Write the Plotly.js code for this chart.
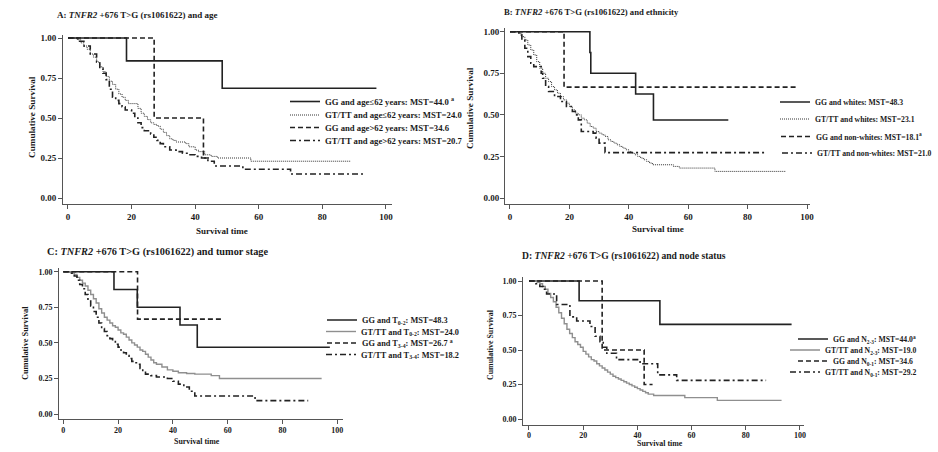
<!DOCTYPE html>
<html><head><meta charset="utf-8">
<script src="https://cdn.plot.ly/plotly-3.0.1.min.js"></script>
<style>html,body{margin:0;padding:0;background:#fff}#chart{width:938px;height:452px}</style>
</head><body><div id="chart"></div>
<script>
// ---------- Panel A: genotype and age ----------
const A_GG_young_t = [0, 18.4, 48.5, 97];
const A_GG_young_s = [1, 0.857, 0.686, 0.686];
const A_GT_young_t = [0,3,4,5,6,7,8,9,10,11,12,13,14,15,16,17,18,19,22,23,24,25,26,27,28,29,30,31,32,33,34,37,38,40,41,43,45,47,57.5,89];
const A_GT_young_s = [1,0.99,0.97,0.95,0.93,0.90,0.88,0.85,0.82,0.79,0.76,0.73,0.71,0.68,0.65,0.63,0.61,0.59,0.56,0.53,0.51,0.49,0.47,0.46,0.45,0.43,0.41,0.39,0.37,0.36,0.35,0.34,0.32,0.30,0.29,0.27,0.26,0.25,0.23,0.23];
const A_GG_old_t = [0, 27.1, 42.6, 45];
const A_GG_old_s = [1, 0.5, 0.25, 0.25];
const A_GT_old_t = [0,3,5,7,9,10,11,12,13,14,15,16,17,18,20,21,22,23,24,26,27,28,29,30,32,34,36,38,40,42,44,46,55,70,93];
const A_GT_old_s = [1,0.98,0.95,0.90,0.85,0.81,0.78,0.74,0.68,0.63,0.61,0.59,0.57,0.55,0.53,0.50,0.47,0.44,0.42,0.40,0.38,0.36,0.34,0.32,0.30,0.29,0.28,0.27,0.26,0.25,0.23,0.20,0.18,0.15,0.15];
const A_names = ["GG and age\u226462 years: MST=44.0 <sup>a</sup>", "GT/TT and age\u226462 years: MST=24.0", "GG and age&gt;62 years: MST=34.6", "GT/TT and age&gt;62 years: MST=20.7"];

// ---------- Panel B: genotype and ethnicity ----------
const B_GG_white_t = [0, 26.9, 27.2, 42.3, 48.3, 73.5];
const B_GG_white_s = [1, 0.875, 0.75, 0.625, 0.469, 0.469];
const B_GT_white_t = [0,3,4,5,6,7,8,9,10,11,12,13,14,15,16,17,18,19,20,21,22,23,24,25,26,27,28,29,30,31,32,33,34,35,36,37,38,39,40,41,42,43,44,45,46,47,48,55,57,69,93];
const B_GT_white_s = [1,0.99,0.97,0.95,0.92,0.89,0.86,0.82,0.78,0.75,0.72,0.70,0.67,0.65,0.63,0.61,0.59,0.57,0.55,0.53,0.51,0.50,0.48,0.47,0.45,0.43,0.42,0.40,0.39,0.38,0.37,0.35,0.34,0.33,0.32,0.31,0.30,0.29,0.28,0.27,0.26,0.25,0.24,0.23,0.22,0.21,0.20,0.19,0.18,0.16,0.16];
const B_GG_non_t = [0, 18.2, 97];
const B_GG_non_s = [1, 0.667, 0.667];
const B_GT_non_t = [0,3,4,5,6,7,8,10.5,11,12,13,15,17,19,21,22,23,24,28,29,30,32,86.4];
const B_GT_non_s = [1,0.98,0.95,0.90,0.85,0.81,0.79,0.75,0.72,0.67,0.64,0.61,0.58,0.55,0.52,0.50,0.47,0.40,0.39,0.36,0.33,0.273,0.273];
const B_names = ["GG and whites: MST=48.3", "GT/TT and whites: MST=23.1", "GG and non-whites: MST=18.1<sup>a</sup>", "GT/TT and non-whites: MST=21.0"];

// ---------- Panel C: genotype and tumor stage ----------
const C_GG_T02_t = [0, 18.5, 27, 42.6, 48.9, 97.3];
const C_GG_T02_s = [1, 0.875, 0.75, 0.625, 0.469, 0.469];
const C_GT_T02_t = [0,3,4,5,6,7,8,9,10,11,12,13,14,15,16,17,18,19,20,21,22,23,24,25,26,27,28,29,30,31,32,33,34,36,38,40,42,45,48,54,57,94.3];
const C_GT_T02_s = [1,0.99,0.98,0.96,0.94,0.92,0.90,0.87,0.84,0.81,0.78,0.74,0.71,0.68,0.66,0.64,0.62,0.61,0.59,0.57,0.56,0.54,0.52,0.50,0.485,0.47,0.45,0.44,0.42,0.40,0.38,0.36,0.35,0.33,0.31,0.30,0.29,0.285,0.28,0.27,0.25,0.25];
const C_GG_T34_t = [0, 27.1, 57.8];
const C_GG_T34_s = [1, 0.667, 0.667];
const C_GT_T34_t = [0,3,4,5,6,7,8,9,10,11,12,13,14,15,16,17,18,19,20,21,22,23,24,25,26,27,28,29,30,32,34,38,40,42,44,46,48,70,89.4];
const C_GT_T34_s = [1,0.99,0.97,0.94,0.91,0.88,0.84,0.80,0.76,0.72,0.68,0.64,0.60,0.58,0.55,0.53,0.51,0.49,0.47,0.45,0.43,0.41,0.39,0.37,0.36,0.35,0.32,0.30,0.28,0.27,0.26,0.25,0.23,0.21,0.19,0.16,0.127,0.094,0.094];
const C_names = ["GG and T<sub>0-2</sub>: MST=48.3", "GT/TT and T<sub>0-2</sub>: MST=24.0", "GG and T<sub>3-4</sub>: MST=26.7 <sup>a</sup>", "GT/TT and T<sub>3-4</sub>: MST=18.2"];

// ---------- Panel D: genotype and node status ----------
const D_GG_N23_t = [0, 18.5, 48.3, 96.9];
const D_GG_N23_s = [1, 0.857, 0.686, 0.686];
const D_GT_N23_t = [0,3,4,5,6,7,8,9,10,11,12,13,14,15,16,17,18,19,20,21,22,23,24,25,26,27,28,29,30,31,32,33,34,35,36,37,38,39,40,41,42,43,44,46,57.5,69.5,93.2];
const D_GT_N23_s = [1,0.99,0.98,0.96,0.94,0.91,0.88,0.85,0.81,0.77,0.73,0.69,0.65,0.62,0.59,0.56,0.54,0.52,0.49,0.47,0.45,0.43,0.42,0.40,0.385,0.37,0.355,0.34,0.325,0.31,0.30,0.29,0.28,0.27,0.26,0.25,0.24,0.23,0.22,0.21,0.20,0.19,0.18,0.17,0.155,0.135,0.135];
const D_GG_N01_t = [0, 27, 42.5, 45.6];
const D_GG_N01_s = [1, 0.5, 0.25, 0.25];
const D_GT_N01_t = [0,2.5,4,5.3,6.5,10.2,15.1,17.6,22.5,24.4,26.2,27.4,28.7,32.3,41,47.5,54.5,87.5];
const D_GT_N01_s = [1,0.98,0.96,0.94,0.906,0.83,0.74,0.71,0.67,0.60,0.56,0.52,0.476,0.43,0.40,0.32,0.28,0.28];
const D_names = ["GG and N<sub>2-3</sub>: MST=44.0<sup>a</sup>", "GT/TT and N<sub>2-3</sub>: MST=19.0", "GG and N<sub>0-1</sub>: MST=34.6", "GT/TT and N<sub>0-1</sub>: MST=29.2"];

const panelTitles = ["A: <i>TNFR2</i> +676 T&gt;G (rs1061622) and age", "B: <i>TNFR2</i> +676 T&gt;G (rs1061622) and ethnicity", "C: <i>TNFR2</i> +676 T&gt;G (rs1061622) and tumor stage", "D: <i>TNFR2</i> +676 T&gt;G (rs1061622) and node status"];
const xTicks = [0, 20, 40, 60, 80, 100];
const yTicks = [0, 0.25, 0.5, 0.75, 1.0];

// ---------- styling / layout helpers ----------
const W = 938, H = 452;
const FONT = '"Liberation Serif", "Times New Roman", serif';
const INK = '#1a1a1a';
const px = v => v / W, py = v => 1 - v / H;

const styles = {
  solid:   {color: '#222', width: 1.6, dash: 'solid'},
  dotted:  {color: '#333', width: 1, dash: '1px,1px'},
  gray:    {color: '#8f8f8f', width: 1.4, dash: 'solid'},
  dashed:  {color: '#222', width: 1.6, dash: '5px,3px'},
  dashdot: {color: '#222', width: 1.6, dash: '6px,3px,2px,3px'}
};

const panels = [
  {series: [[A_GG_young_t, A_GG_young_s, 'solid'], [A_GT_young_t, A_GT_young_s, 'dotted'], [A_GG_old_t, A_GG_old_s, 'dashed'], [A_GT_old_t, A_GT_old_s, 'dashdot']],
   names: A_names, dom: [63, 392, 35, 204], xr: [-1.57, 101.9], yr: [-0.0375, 1.019], xstand: 0, ystand: 0, tick: 9,
   leg: {xs: [285, 285, 285, 285], ys: [101.5, 115, 127.5, 140.5], size: 8.7},
   title: {x: 55, y: 15, size: 9.0}, ytitle: {x: 32, y: 117, size: 9.2}, xtitle: {x: 222, y: 231, size: 9}},
  {series: [[B_GG_white_t, B_GG_white_s, 'solid'], [B_GT_white_t, B_GT_white_s, 'dotted'], [B_GG_non_t, B_GG_non_s, 'dashed'], [B_GT_non_t, B_GT_non_s, 'dashdot']],
   names: B_names, dom: [505, 810, 28.3, 204], xr: [-1.68, 101.0], yr: [-0.036, 1.0204], xstand: 0, ystand: -1, tick: 9,
   leg: {xs: [775, 775, 776, 777], ys: [102, 119, 136.5, 153], size: 7.7},
   title: {x: 502, y: 12, size: 8.7}, ytitle: {x: 470, y: 108, size: 9.2}, xtitle: {x: 658, y: 229, size: 9}},
  {series: [[C_GG_T02_t, C_GG_T02_s, 'solid'], [C_GT_T02_t, C_GT_T02_s, 'gray'], [C_GG_T34_t, C_GG_T34_s, 'dashed'], [C_GT_T34_t, C_GT_T34_s, 'dashdot']],
   names: C_names, dom: [59, 343, 268, 419.3], xr: [-1.57, 102.1], yr: [-0.0372, 1.026], xstand: -1, ystand: 0, tick: 8,
   leg: {xs: [322, 321, 322, 321], ys: [320, 331.5, 343, 354.5], size: 8.3},
   title: {x: 45, y: 252, size: 10.3}, ytitle: {x: 25, y: 343, size: 8.3}, xtitle: {x: 197, y: 441, size: 7.9}},
  {series: [[D_GG_N23_t, D_GG_N23_s, 'solid'], [D_GT_N23_t, D_GT_N23_s, 'gray'], [D_GG_N01_t, D_GG_N01_s, 'dashed'], [D_GT_N01_t, D_GT_N01_s, 'dashdot']],
   names: D_names, dom: [523, 804, 277, 425], xr: [-2.21, 101.48], yr: [-0.0435, 1.029], xstand: -2, ystand: 0, tick: 8,
   leg: {xs: [793, 785, 793, 785], ys: [339, 350, 361, 372], size: 7.7},
   title: {x: 520, y: 256, size: 9.6}, ytitle: {x: 490, y: 344, size: 7.9}, xtitle: {x: 660, y: 443, size: 7.9}}
];

const data = [];
const layout = {
  width: W, height: H, margin: {l: 0, r: 0, t: 0, b: 0},
  paper_bgcolor: '#fff', plot_bgcolor: '#fff', showlegend: true,
  font: {family: FONT, color: INK, size: 10},
  annotations: []
};

let legIdx = 0;
panels.forEach((p, i) => {
  const n = i === 0 ? '' : String(i + 1);
  const xa = 'x' + n, ya = 'y' + n;
  const axisCommon = {showline: true, linecolor: '#555', linewidth: 1, ticks: 'outside', ticklen: 4, tickcolor: '#555',
    showgrid: false, zeroline: false, tickfont: {family: FONT, size: p.tick, color: INK, weight: 'bold'}};
  layout['xaxis' + n] = Object.assign({}, axisCommon, {domain: [px(p.dom[0]), px(p.dom[1])], range: p.xr, anchor: ya,
    tickmode: 'array', tickvals: xTicks, ticktext: xTicks.map(String), ticklabelstandoff: p.xstand});
  layout['yaxis' + n] = Object.assign({}, axisCommon, {domain: [py(p.dom[3]), py(p.dom[2])], range: p.yr, anchor: xa,
    tickmode: 'array', tickvals: yTicks, ticktext: yTicks.map(v => v.toFixed(2)), ticklabelstandoff: p.ystand});
  p.series.forEach((s, k) => {
    legIdx++;
    const lname = legIdx === 1 ? 'legend' : 'legend' + legIdx;
    data.push({type: 'scatter', mode: 'lines', x: s[0], y: s[1], xaxis: xa, yaxis: ya,
      line: Object.assign({shape: 'hv'}, styles[s[2]]), name: p.names[k], legend: lname, hoverinfo: 'skip'});
    layout[lname] = {x: px(p.leg.xs[k]), y: py(p.leg.ys[k]), xanchor: 'left', yanchor: 'middle',
      bgcolor: 'rgba(0,0,0,0)', borderwidth: 0, font: {family: FONT, size: p.leg.size, color: INK, weight: 'bold'}};
  });
  layout.annotations.push({text: panelTitles[i], xref: 'paper', yref: 'paper', x: px(p.title.x), y: py(p.title.y),
    xanchor: 'left', yanchor: 'middle', showarrow: false, font: {family: FONT, size: p.title.size, color: INK, weight: 'bold'}});
  layout.annotations.push({text: 'Cumulative Survival', xref: 'paper', yref: 'paper', x: px(p.ytitle.x), y: py(p.ytitle.y),
    xanchor: 'center', yanchor: 'middle', textangle: -90, showarrow: false, font: {family: FONT, size: p.ytitle.size, color: INK, weight: 'bold'}});
  layout.annotations.push({text: 'Survival time', xref: 'paper', yref: 'paper', x: px(p.xtitle.x), y: py(p.xtitle.y),
    xanchor: 'center', yanchor: 'middle', showarrow: false, font: {family: FONT, size: p.xtitle.size, color: INK, weight: 'bold'}});
});

Plotly.newPlot('chart', data, layout, {displayModeBar: false, staticPlot: true});
</script>
</body></html>
